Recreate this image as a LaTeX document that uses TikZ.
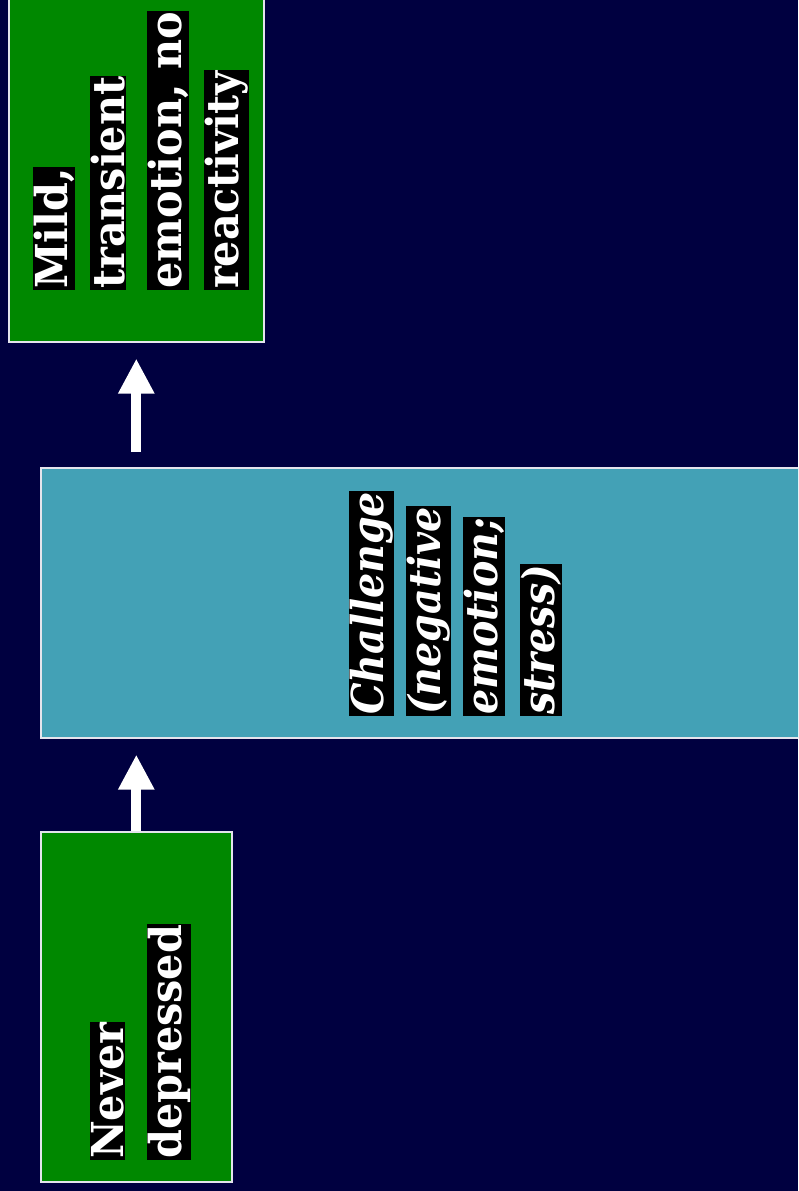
\documentclass[tikz,border=0pt]{standalone}
\usepackage{fontspec}
\usetikzlibrary{arrows.meta}
\newfontfamily\slabfont{DejaVu Serif}[FakeStretch=0.94]
\newfontfamily\slabitfont{DejaVu Serif}[FakeStretch=0.9]
\definecolor{navy}{HTML}{000040}
\definecolor{leaf}{HTML}{008800}
\definecolor{teal}{HTML}{43A1B6}
\definecolor{rim}{HTML}{E4E4EC}
\tikzset{
  panel/.style={draw=rim, line width=1.6pt, inner sep=0pt, anchor=north west},
  greenpanel/.style={panel, fill=leaf},
  tealpanel/.style={panel, fill=teal},
  hl/.style={fill=black, text=white, inner sep=1pt, rotate=90, anchor=base west,
    font=\slabfont\bfseries\fontsize{44}{44}\selectfont},
  hli/.style={hl, font=\slabitfont\bfseries\itshape\fontsize{44}{44}\selectfont},
  uparrow/.style={draw=white, line width=10pt, -{Triangle[width=34pt,length=35pt]}}
}
\begin{document}
\begin{tikzpicture}
\useasboundingbox (0pt,0pt) rectangle (798pt,-1191pt);
\clip (0pt,0pt) rectangle (798pt,-1191pt);
\fill[navy] (0pt,0pt) rectangle (798pt,-1191pt);

% panels
\node[greenpanel, minimum width=255pt, minimum height=351pt] (top) at (8pt,10pt) {};
\node[tealpanel, minimum width=780pt, minimum height=270pt] (mid) at (40pt,-467pt) {};
\node[greenpanel, minimum width=191pt, minimum height=350pt] (bot) at (40pt,-831pt) {};

% arrows
\draw[uparrow, shorten >=16pt] (bot.north) -- (bot.north |- mid.south);
\draw[uparrow, shorten <=15pt, shorten >=16pt] (mid.north -| top.south) -- (top.south);

% labels, one highlighted line each
\node[hl] (m1) at (67pt,-290pt) {Mild,};
\node[hl] (m2) at (124pt,-290pt) {transient};
\node[hl] (m3) at (181pt,-290pt) {emotion, no};
\node[hl] (m4) at (238pt,-290pt) {reactivity};

\node[hli] (c1) at (383pt,-716pt) {Challenge};
\node[hli] (c2) at (440pt,-716pt) {(negative};
\node[hli] (c3) at (497pt,-716pt) {emotion;};
\node[hli] (c4) at (554pt,-716pt) {stress)};

\node[hl] (n1) at (123pt,-1160pt) {Never};
\node[hl] (n2) at (181pt,-1160pt) {depressed};
\end{tikzpicture}
\end{document}
